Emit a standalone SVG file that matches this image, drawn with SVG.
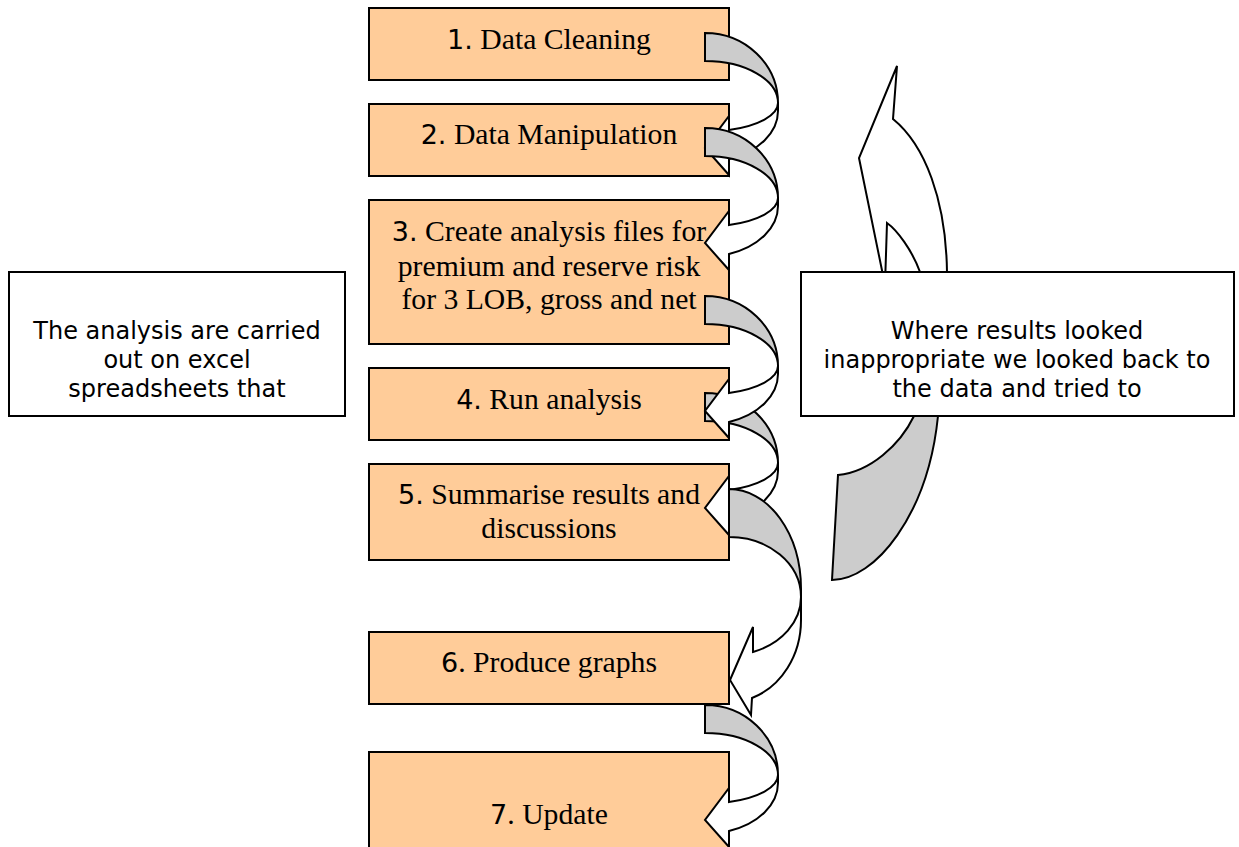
<svg xmlns="http://www.w3.org/2000/svg" width="1239" height="847" viewBox="0 0 1239 847">
<style>
.box{fill:#FFCC99;stroke:#000;stroke-width:2}
.note{fill:#fff;stroke:#000;stroke-width:2}
.back{fill:#CCCCCC;stroke:#000;stroke-width:2;stroke-linejoin:miter}
.front{fill:#fff;stroke:#000;stroke-width:2;stroke-linejoin:miter}
.t{font-family:"Liberation Serif","Times New Roman",serif;font-size:29.7px;fill:#000;text-anchor:middle}
.n{font-family:"DejaVu Sans",Verdana,sans-serif;font-size:27px}
.s{font-family:"DejaVu Sans",Verdana,sans-serif;font-size:24px;fill:#000;text-anchor:middle}
</style>
<defs>
<g id="ca">
<path class="back" d="M0,0 A73,70 0 0 1 73,70 A73,42 0 0 0 0,28 Z"/>
<path class="front" d="M73,70 A73,28.6 0 0 1 24,97 L24,83 L0,115 L24,142 L24,126 A73,50.8 0 0 0 73,78 Z"/>
</g>
</defs>
<g id="step1"><rect class="box" x="369" y="8" width="360" height="72"/><text class="t" x="549" y="49"><tspan class="n">1.</tspan> Data Cleaning</text></g>
<g id="step2"><rect class="box" x="369" y="104" width="360" height="72"/><text class="t" x="549" y="144"><tspan class="n">2.</tspan> Data Manipulation</text></g>
<g id="step3"><rect class="box" x="369" y="200" width="360" height="144"/><text class="t" x="549" y="241"><tspan class="n">3.</tspan> Create analysis files for</text><text class="t" x="549" y="276">premium and reserve risk</text><text class="t" x="549" y="309">for 3 LOB, gross and net</text></g>
<g id="step4"><rect class="box" x="369" y="368" width="360" height="72"/><text class="t" x="549" y="409"><tspan class="n">4.</tspan> Run analysis</text></g>
<g id="step5"><rect class="box" x="369" y="464" width="360" height="96"/><text class="t" x="549" y="504"><tspan class="n">5.</tspan> Summarise results and</text><text class="t" x="549" y="538">discussions</text></g>
<g id="step6"><rect class="box" x="369" y="632" width="360" height="72"/><text class="t" x="549" y="672"><tspan class="n">6</tspan>. Produce graphs</text></g>
<g id="step7"><rect class="box" x="369" y="752" width="360" height="110"/><text class="t" x="549" y="824"><tspan class="n">7</tspan>. Update</text></g>
<g id="connectors">
<use href="#ca" transform="translate(705,33)"/>
<use href="#ca" transform="translate(705,128)"/>
<use href="#ca" transform="translate(705,393)"/>
<use href="#ca" transform="translate(705,296)"/>
<g transform="translate(729,489)">
<path class="back" d="M0,0 A72,100 0 0 1 72,100 L72,108 A72,60 0 0 0 0,48 Z"/>
<path class="front" d="M72,108 A72,58.3 0 0 1 24,163 L24,138 L1,191 L22,226 L23,209 A72,82.3 0 0 0 72,131 Z"/>
</g>
<use href="#ca" transform="translate(705,705)"/>
<path class="front" d="M897,66 L859,158 L885,285 L887,223 C897,230 912,250 920,272 L925,290 L950,290 L947,272 C946,200 925,145 893,119 Z"/>
<path class="back" d="M917,400 L914,416 C900,445 870,472 838,475 L832,580 C875,580 928,515 938,416 L940,400 Z"/>
</g>
<g id="note-left"><rect class="note" x="9" y="272" width="336" height="144"/><text class="s" x="177" y="339">The analysis are carried</text><text class="s" x="177" y="368">out on excel</text><text class="s" x="177" y="397">spreadsheets that</text></g>
<g id="note-right"><rect class="note" x="801" y="272" width="433" height="144"/><text class="s" x="1017" y="339">Where results looked</text><text class="s" x="1017" y="368">inappropriate we looked back to</text><text class="s" x="1017" y="397">the data and tried to</text></g>
</svg>
